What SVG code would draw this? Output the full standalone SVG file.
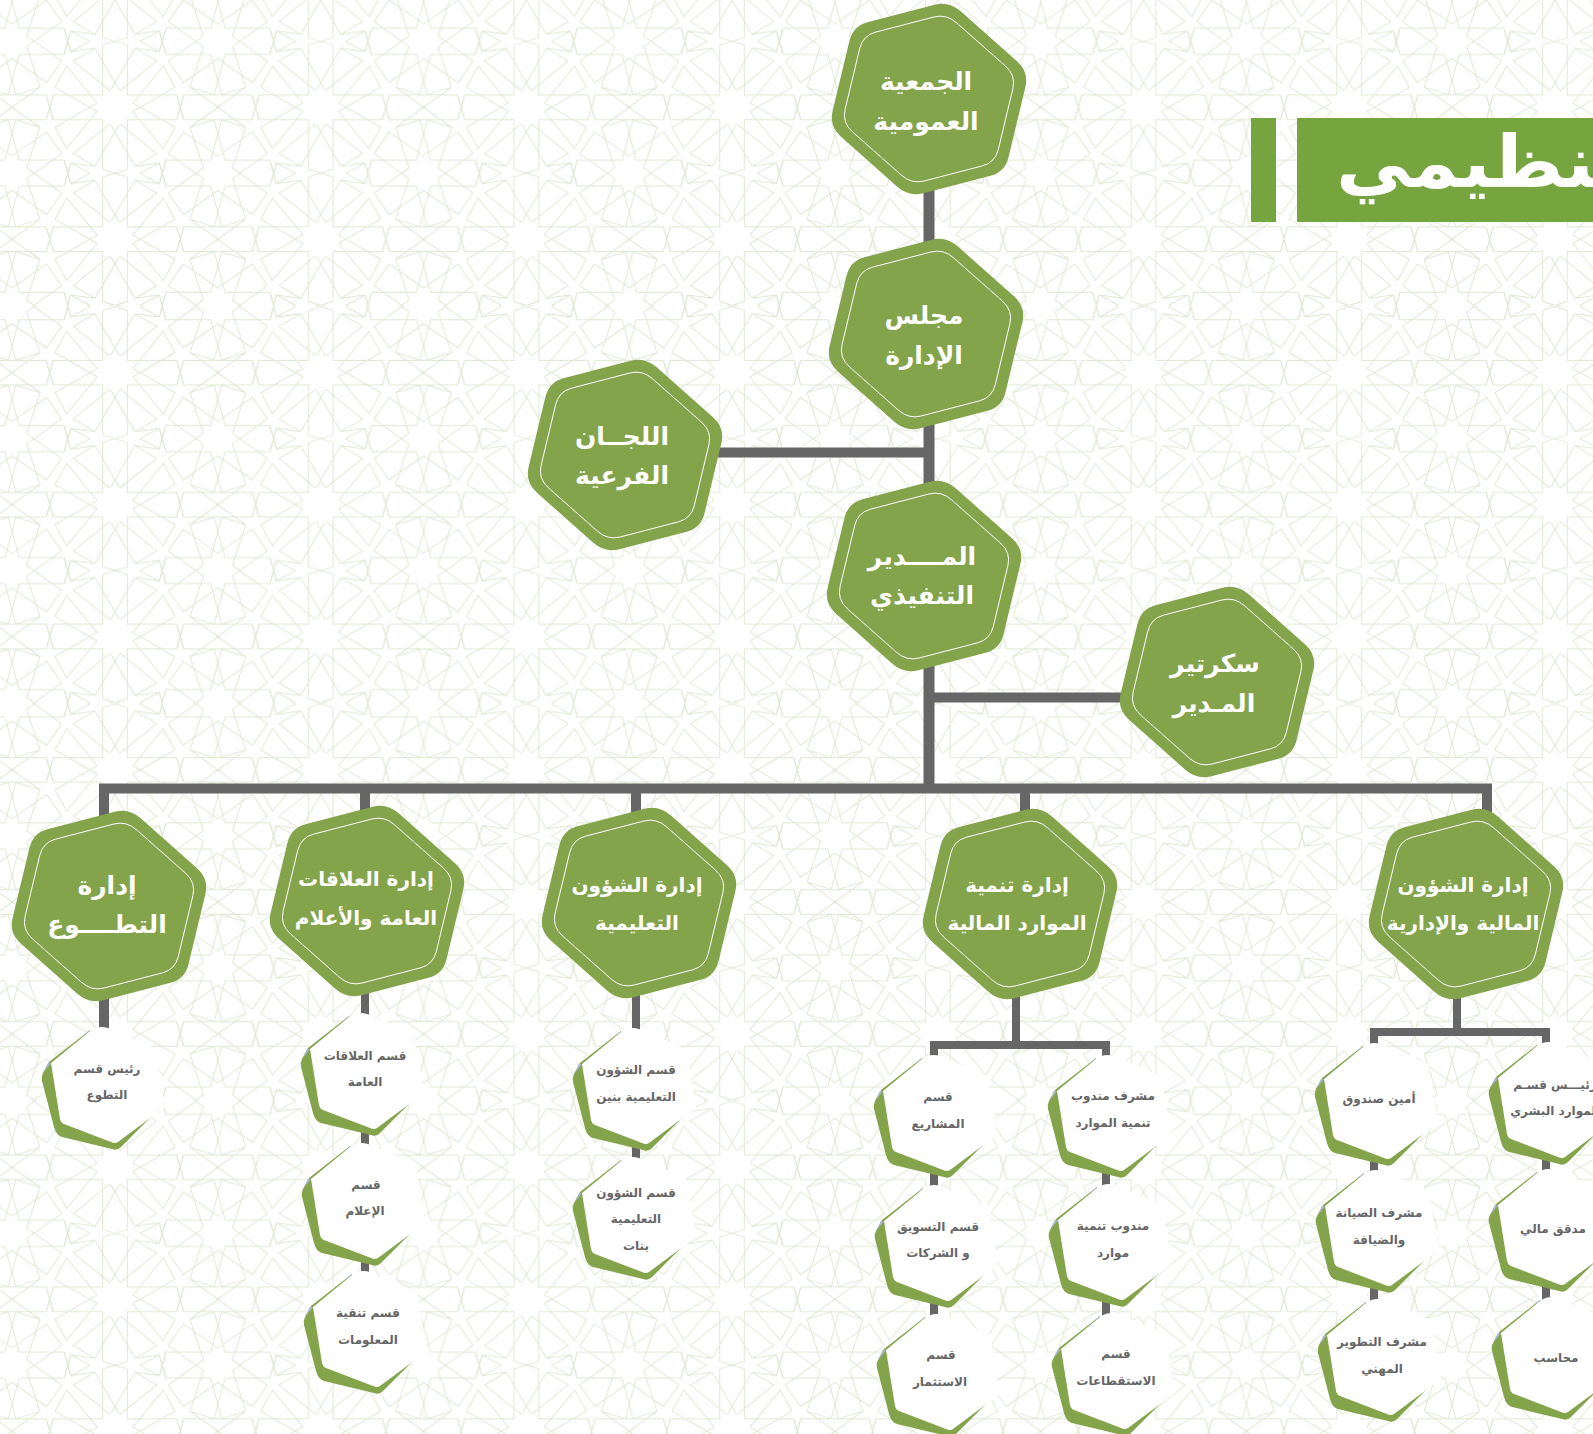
<svg xmlns="http://www.w3.org/2000/svg" width="1593" height="1434" viewBox="0 0 1593 1434">
<style>
text{font-family:"DejaVu Sans",sans-serif;text-anchor:middle;direction:rtl}
.big{font-size:25px;font-weight:700;fill:#fff}
.mid{font-size:20px;font-weight:700;fill:#fff}
.sm{font-size:12px;font-weight:700;fill:#666}
.ttl{font-size:72px;font-weight:700;fill:#fff;text-anchor:end}
.pt{fill:none;stroke:#dfe8d4;stroke-width:1}
.c{fill:none;stroke:#666;stroke-width:8}
.b{fill:none;stroke:#666;stroke-width:10}
.t{fill:none;stroke:#666;stroke-width:11}
</style>
<defs>
<g id="q" class="pt">
<path d="M0,-66L12.3,-62.3V-12.3H61.7L68.7,12.3M102.85,-12.3H68.7L61.7,12.3M17.7,4.3L60,-20L48.3,-41.3L17.7,-4M5,-16.7L41.7,-46.3L20,-59L-4.3,-17.3M20,-59L44.3,-55.7M25,-66L44.3,-55.7L50.7,-78M44.3,-76.3L50.7,-53H95.7L106.7,-12.3M53.3,-46.3L68.3,-24.7L103.3,-49M53.3,-85.7L88.3,-60.7L75,-20L100,-12.3M75,-20L105,1.400"/>
</g>
<g id="u">
<use href="#q"/><use href="#q" transform="scale(-1,1)"/><use href="#q" transform="translate(0,-132) scale(1,-1)"/><use href="#q" transform="translate(0,-132) scale(-1,-1)"/>
</g>
<g id="u3"><use href="#u"/><use href="#u" y="132"/><use href="#u" y="264"/><use href="#u" y="396"/></g>
<pattern id="bgp" width="205.7" height="397.33" patternUnits="userSpaceOnUse" patternTransform="translate(12.15,-92.33)">
<g transform="translate(102.85,67.63)"><use href="#u3" x="-205.7"/><use href="#u3"/><use href="#u3" x="205.7"/></g>
</pattern>
<g id="hex">
<path fill="#84a44c" d="M5.600,-94.200Q20,-98 32,-87.400L88,-37.700Q100,-27 96.400,-12L79.600,58Q76,73 61.600,76.800L-5.600,94.200Q-20,98 -32,87.400L-88,37.700Q-100,27 -96.400,12L-79.600,-58Q-76,-73 -61.600,-76.800Z"/>
<path fill="none" stroke="#fff" stroke-width="1" d="M4.900,-82Q17.400,-85.300 27.800,-76L76.600,-32.800Q87,-23.500 83.900,-10.400L69.300,50.500Q66.100,63.500 53.600,66.800L-4.900,82Q-17.400,85.300 -27.800,76L-76.600,32.800Q-87,23.500 -83.900,10.400L-69.300,-50.500Q-66.100,-63.500 -53.600,-66.800Z"/>
</g>
<g id="hs">
<path fill="#84a44c" d="M-18,-55L-59,-23L-65,-12Q-67,-8 -66,-4L-54,42Q-52,50 -46,52L4,64Q9,66 13,62L49,26L8,50Z"/>
<path fill="#a7b6c6" d="M-57,-22L-60,-22L-65,-12L-60,-18ZM-18,-55L-25,-49.500L-20,-52Z"/>
<path fill="#fff" d="M-57,-22L-18,-54Q-10,-60 0,-57L47,-37L57,22L10,57Q7,59 3,57L-44,39Q-47,38 -48,34Z"/>
</g>
</defs>
<rect id="background" width="1593" height="1434" fill="#fff"/>
<rect id="pattern" width="1593" height="1434" fill="url(#bgp)"/>
<g id="title">
<rect x="1251" y="118" width="25" height="104" fill="#76a540"/>
<rect x="1297" y="118" width="296" height="104" fill="#76a540"/>
<text class="ttl" transform="translate(1336,187) scale(1.04,1)" lang="ar">التنظيمي</text>
</g>
<g id="connectors">
<path class="t" d="M929,190V790"/>
<path class="b" d="M104,1030V788.500H1487V815M365,788V815M636,788V815M1025,788V815M710,452.500H929M929,697.500H1130"/>
<path class="c" d="M104,990V1030M365,980V1340M636,980V1240M1016,985V1045M934,1400V1045H1106V1400M1457,985V1032M1374,1380V1032H1546V1380"/>
</g>
<g id="n-assembly"><use href="#hex" x="929" y="99"/><text class="big" x="926" y="90" lang="ar">الجمعية</text><text class="big" x="926" y="130" lang="ar">العمومية</text></g>
<g id="n-board"><use href="#hex" x="926" y="334"/><text class="big" x="924" y="324" lang="ar">مجلس</text><text class="big" x="924" y="364" lang="ar">الإدارة</text></g>
<g id="n-committees"><use href="#hex" x="625" y="455"/><text class="big" x="622" y="445" lang="ar">اللجــان</text><text class="big" x="622" y="484" lang="ar">الفرعية</text></g>
<g id="n-ceo"><use href="#hex" x="924" y="576"/><text class="big" x="922" y="565" lang="ar">المــــدير</text><text class="big" x="922" y="604" lang="ar">التنفيذي</text></g>
<g id="n-secretary"><use href="#hex" x="1217" y="682"/><text class="big" x="1215" y="672" lang="ar">سكرتير</text><text class="big" x="1214" y="712" lang="ar">المـدير</text></g>
<g id="n-volunteer"><use href="#hex" x="109" y="906"/><text class="big" x="107" y="894" lang="ar">إدارة</text><text class="big" x="107" y="933" lang="ar">التطــــوع</text></g>
<g id="n-pr"><use href="#hex" x="367" y="901"/><text class="mid" x="366" y="886" lang="ar">إدارة العلاقات</text><text class="mid" x="366" y="925" lang="ar">العامة والأعلام</text></g>
<g id="n-edu"><use href="#hex" x="639" y="903"/><text class="mid" x="637" y="892" lang="ar">إدارة الشؤون</text><text class="mid" x="637" y="930" lang="ar">التعليمية</text></g>
<g id="n-hr"><use href="#hex" x="1020" y="904"/><text class="mid" x="1017" y="892" lang="ar">إدارة تنمية</text><text class="mid" x="1017" y="930" lang="ar">الموارد المالية</text></g>
<g id="n-fin"><use href="#hex" x="1466" y="904"/><text class="mid" x="1463" y="892" lang="ar">إدارة الشؤون</text><text class="mid" x="1463" y="930" lang="ar">المالية والإدارية</text></g>
<g id="s-vol"><use href="#hs" x="108" y="1085"/><text class="sm" x="107" y="1073" lang="ar">رئيس قسم</text><text class="sm" x="107" y="1099" lang="ar">التطوع</text></g>
<g id="s-pr1"><use href="#hs" x="367" y="1071"/><text class="sm" x="365" y="1060" lang="ar">قسم العلاقات</text><text class="sm" x="365" y="1086" lang="ar">العامة</text></g>
<g id="s-pr2"><use href="#hs" x="368" y="1201"/><text class="sm" x="366" y="1189" lang="ar">قسم</text><text class="sm" x="365" y="1215" lang="ar">الإعلام</text></g>
<g id="s-pr3"><use href="#hs" x="370" y="1329"/><text class="sm" x="368" y="1317" lang="ar">قسم تنقية</text><text class="sm" x="368" y="1344" lang="ar">المعلومات</text></g>
<g id="s-edu1"><use href="#hs" x="639" y="1086"/><text class="sm" x="636" y="1074" lang="ar">قسم الشؤون</text><text class="sm" x="636" y="1101" lang="ar">التعليمية بنين</text></g>
<g id="s-edu2"><use href="#hs" x="639" y="1215"/><text class="sm" x="636" y="1197" lang="ar">قسم الشؤون</text><text class="sm" x="636" y="1223" lang="ar">التعليمية</text><text class="sm" x="636" y="1250" lang="ar">بنات</text></g>
<g id="s-hr1"><use href="#hs" x="940" y="1113"/><text class="sm" x="938" y="1101" lang="ar">قسم</text><text class="sm" x="938" y="1128" lang="ar">المشاريع</text></g>
<g id="s-hr2"><use href="#hs" x="941" y="1243"/><text class="sm" x="938" y="1231" lang="ar">قسم التسويق</text><text class="sm" x="938" y="1257" lang="ar">و الشركات</text></g>
<g id="s-hr3"><use href="#hs" x="943" y="1372"/><text class="sm" x="941" y="1359" lang="ar">قسم</text><text class="sm" x="940" y="1386" lang="ar">الاستثمار</text></g>
<g id="s-hr4"><use href="#hs" x="1114" y="1113"/><text class="sm" x="1113" y="1100" lang="ar">مشرف مندوب</text><text class="sm" x="1113" y="1127" lang="ar">تنمية الموارد</text></g>
<g id="s-hr5"><use href="#hs" x="1115" y="1242"/><text class="sm" x="1113" y="1230" lang="ar">مندوب تنمية</text><text class="sm" x="1113" y="1257" lang="ar">موارد</text></g>
<g id="s-hr6"><use href="#hs" x="1118" y="1371"/><text class="sm" x="1116" y="1358" lang="ar">قسم</text><text class="sm" x="1116" y="1385" lang="ar">الاستقطاعات</text></g>
<g id="s-fin1"><use href="#hs" x="1381" y="1101"/><text class="sm" x="1379" y="1103" lang="ar">أمين صندوق</text></g>
<g id="s-fin2"><use href="#hs" x="1382" y="1228"/><text class="sm" x="1379" y="1217" lang="ar">مشرف الصيانة</text><text class="sm" x="1379" y="1244" lang="ar">والضيافة</text></g>
<g id="s-fin3"><use href="#hs" x="1384" y="1357"/><text class="sm" x="1382" y="1346" lang="ar">مشرف التطوير</text><text class="sm" x="1382" y="1373" lang="ar">المهني</text></g>
<g id="s-fin4"><use href="#hs" x="1555" y="1100"/><text class="sm" x="1555" y="1089" lang="ar">رئيـــس قسـم</text><text class="sm" x="1555" y="1115" lang="ar">الموارد  البشري</text></g>
<g id="s-fin5"><use href="#hs" x="1555" y="1227"/><text class="sm" x="1553" y="1233" lang="ar">مدقق مالي</text></g>
<g id="s-fin6"><use href="#hs" x="1558" y="1355"/><text class="sm" x="1556" y="1362" lang="ar">محاسب</text></g>
</svg>
